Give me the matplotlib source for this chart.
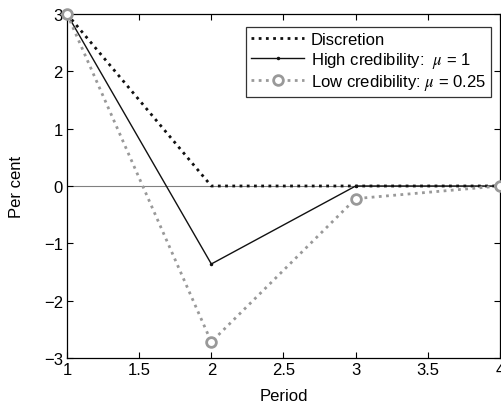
import matplotlib
matplotlib.use("Agg")
import matplotlib.pyplot as plt

plt.rcParams['font.family'] = ['Liberation Sans', 'DejaVu Sans']
plt.rcParams['mathtext.fontset'] = 'stix'

periods = [1, 2, 3, 4]
discretion = [3.0, 0.0, 0.0, 0.0]
high_cred = [3.0, -1.36, 0.0, 0.0]
low_cred = [3.0, -2.72, -0.22, 0.0]
xticks = [1, 1.5, 2, 2.5, 3, 3.5, 4]
yticks = [-3, -2, -1, 0, 1, 2, 3]

fig = plt.figure(figsize=(5.01, 4.06), dpi=100)
ax = fig.add_axes([67/501, 1-359/406, (500-67)/501, (359-15)/406])

ax.axhline(0, color='#808080', lw=0.8, zorder=1)
ax.plot(periods, discretion, color='#111111', lw=2.0, ls=(0, (1, 1.6)), label='Discretion', zorder=3)
ax.plot(periods, high_cred, color='#111111', lw=1.0, marker='.', ms=3, label=r'High credibility:  $\mu$ = 1', zorder=3)
ax.plot(periods, low_cred, color='#999999', lw=2.0, ls=(0, (1, 1.6)), marker='o', ms=7,
        mfc='white', mec='#999999', mew=2.0, label=r'Low credibility: $\mu$ = 0.25', zorder=4, clip_on=False)

ax.set_xlim(1, 4)
ax.set_ylim(-3, 3)
ax.set_xticks(xticks)
ax.set_xticklabels(['1', '1.5', '2', '2.5', '3', '3.5', '4'])
ax.set_yticks(yticks)
ax.set_yticklabels(['\u22123', '\u22122', '\u22121', '0', '1', '2', '3'])
ax.tick_params(direction='in', top=True, right=True, labelsize=12, length=4, width=0.8, pad=3)
for s in ax.spines.values():
    s.set_linewidth(0.9)
ax.set_xlabel('Period', fontsize=12, labelpad=8)
ax.set_ylabel('Per cent', fontsize=12, labelpad=14)

leg = ax.legend(loc='upper right', fontsize=12, frameon=True, fancybox=False, edgecolor='black',
                borderpad=0.3, labelspacing=0.15, handlelength=3.2, handletextpad=0.4,
                bbox_to_anchor=(0.979, 0.962), borderaxespad=0)
leg.get_frame().set_linewidth(0.9)

fig.savefig('out.png', dpi=100)
